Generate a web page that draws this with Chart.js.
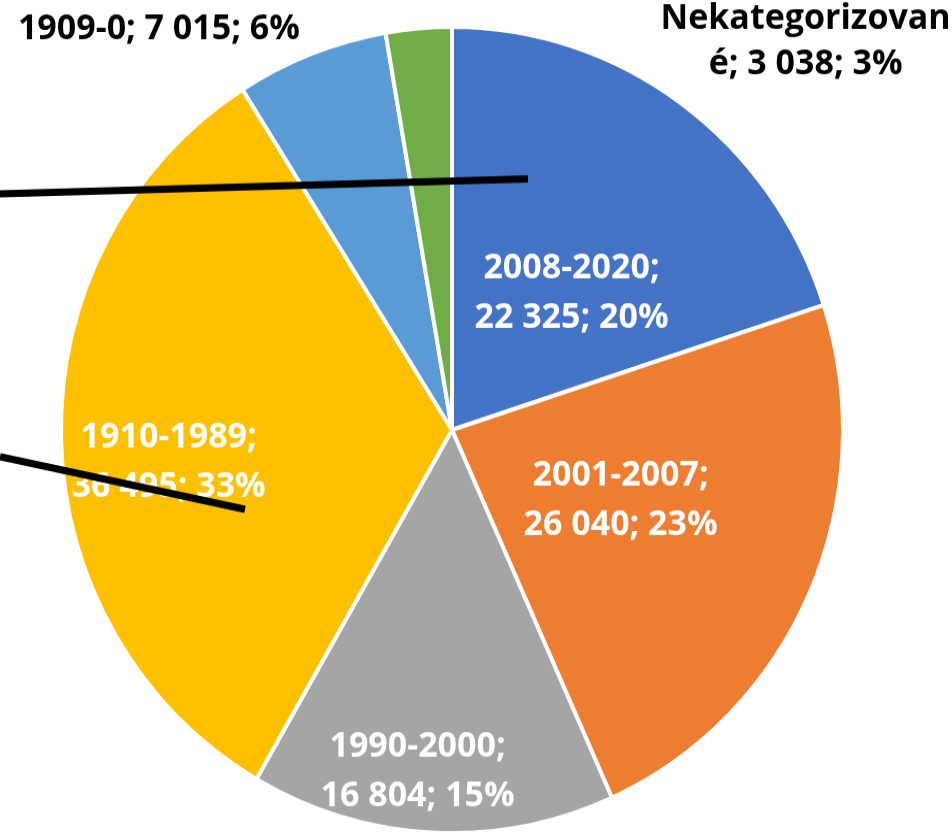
<!DOCTYPE html>
<html>
<head>
<meta charset="utf-8">
<style>
  html, body { margin: 0; padding: 0; background: #fff; width: 952px; height: 838px; overflow: hidden; }
  /* the original pie is a bit taller than wide */
  #wrap { width: 952px; height: 813px; transform: scaleY(1.031); transform-origin: 0 0; }
</style>
<script src="https://cdn.jsdelivr.net/npm/chart.js@4"></script>
</head>
<body>
<div id="wrap"><canvas id="pieChart" width="952" height="813"></canvas></div>
<script>
// Data
const categories = ['2008-2020', '2001-2007', '1990-2000', '1910-1989', '1909-0', 'Nekategorizované'];
const counts = [22325, 26040, 16804, 36495, 7015, 3038];
const colors = ['#4472C4', '#ED7D31', '#A5A5A5', '#FFC000', '#5B9BD5', '#70AD47'];

// label layout: angle shift (deg) from slice middle, distance as part of the radius
const labelShift = [6.0, -1.9, 3.0, -5.1, -15.9, 48.1];
const labelDist = [0.457, 0.465, 0.853, 0.729, 1.246, 1.321];
const labelBreak = [10, 10, 10, 10, 0, 15];
const labelColor = ['#fff', '#fff', '#fff', '#fff', '#000', '#000'];

const total = counts.reduce((a, b) => a + b, 0);

function fmt(n) {
    return String(n).replace(/\B(?=(\d{3})+(?!\d))/g, ' ');
}

// Builds the text lines for a slice, split like the original
function labelLines(i) {
    const pct = Math.round(counts[i] / total * 100);
    const txt = categories[i] + '; ' + fmt(counts[i]) + '; ' + pct + '%';
    const cut = labelBreak[i];
    if (!cut) return [txt];
    return [txt.slice(0, cut).trim(), txt.slice(cut).trim()];
}

const sliceLabels = {
    id: 'sliceLabels',
    afterDatasetsDraw(chart) {
        const ctx = chart.ctx;
        const meta = chart.getDatasetMeta(0);
        ctx.save();
        ctx.font = 'bold 34px "Open Sans"';
        ctx.textAlign = 'center';
        ctx.textBaseline = 'middle';
        meta.data.forEach((arc, i) => {
            const p = arc.getProps(['x', 'y', 'startAngle', 'endAngle', 'outerRadius'], true);
            const a = (p.startAngle + p.endAngle) / 2 + labelShift[i] * Math.PI / 180;
            const r = p.outerRadius * labelDist[i];
            const cx = p.x + Math.cos(a) * r;
            const cy = p.y + Math.sin(a) * r;
            const lines = labelLines(i);
            const lh = lines[0].length > 12 ? 44 : 48;
            ctx.fillStyle = labelColor[i];
            lines.forEach((ln, k) => {
                ctx.fillText(ln, cx, cy + (k - (lines.length - 1) / 2) * lh);
            });
        });
        ctx.restore();
    }
};

// the two black strokes drawn over the picture
const marks = {
    id: 'marks',
    afterDraw(chart) {
        const ctx = chart.ctx;
        ctx.save();
        ctx.strokeStyle = '#000';
        ctx.lineWidth = 7;
        ctx.beginPath();
        ctx.moveTo(0, 188);
        ctx.lineTo(528, 173.5);
        ctx.moveTo(0, 443);
        ctx.lineTo(245, 494);
        ctx.stroke();
        ctx.restore();
    }
};

new Chart(document.getElementById('pieChart').getContext('2d'), {
    type: 'pie',
    data: {
        labels: categories,
        datasets: [{
            data: counts,
            backgroundColor: colors,
            borderColor: '#fff',
            borderWidth: 4
        }]
    },
    options: {
        responsive: false,
        animation: false,
        radius: 391,
        layout: { padding: { left: 61, right: 109, top: 26, bottom: 5 } },
        plugins: {
            legend: { display: false },
            tooltip: { enabled: false }
        }
    },
    plugins: [sliceLabels, marks]
});
</script>
</body>
</html>
